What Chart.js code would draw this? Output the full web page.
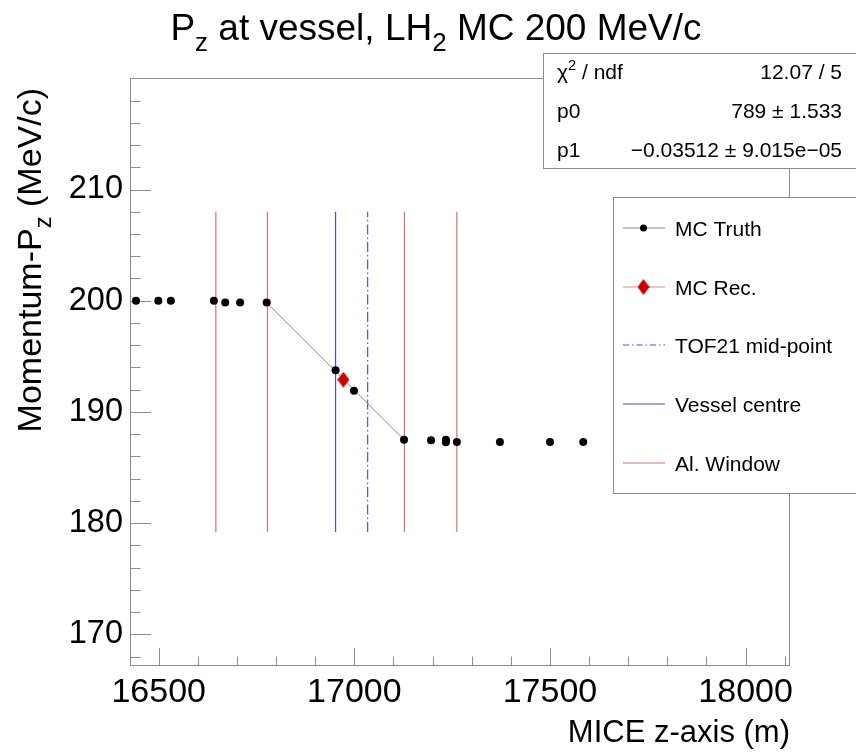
<!DOCTYPE html>
<html>
<head>
<meta charset="utf-8">
<title>Pz at vessel</title>
<script src="https://cdn.jsdelivr.net/npm/chart.js@4.4.1/dist/chart.umd.min.js"></script>
<style>
  html, body { margin: 0; padding: 0; background: #ffffff; }
  #box { width: 856px; height: 756px; }
</style>
</head>
<body>
<div id="box"><canvas id="chart" width="856" height="756"></canvas></div>
<script>
// MC truth momentum sampled along the beamline
const truthZ  = [16442, 16499, 16531, 16641, 16670, 16708, 16776, 16952, 16999, 17127, 17196, 17234, 17234, 17262, 17372, 17500, 17585];
const truthPz = [200.0, 200.0, 200.0, 200.0, 199.85, 199.85, 199.85, 193.75, 191.9, 187.5, 187.45, 187.5, 187.28, 187.3, 187.3, 187.3, 187.3];

// Reconstructed momentum at the vessel
const recZ  = [16972];
const recPz = [192.9];

// Straight-line fit p0 + p1*z across the absorber
const fitP0 = 789;
const fitP1 = -0.03512;
const fitRange = [16776, 17128];

// Reference positions drawn as vertical markers
const windowZ = [16646, 16778, 17128, 17262];
const vesselZ = [16952];
const tofMidZ = [17034];
const markerPz = [179.2, 208.0];

// Axis ranges and labelled ticks
const xRange = [16426.6, 18110.9];
const yRange = [167.24, 220.03];
const xTickValues = [16500, 17000, 17500, 18000];
const yTickValues = [170, 180, 190, 200, 210];

// Fit statistics box
const statsNames  = [[['χ'], ['2', 'sup'], [' / ndf']], [['p0']], [['p1']]];
const statsValues = ['12.07 / 5', '789 ± 1.533', '−0.03512 ± 9.015e−05'];

// Titles
const titleParts  = [['P'], ['z', 'sub'], [' at vessel, LH'], ['2', 'sub'], [' MC 200 MeV/c']];
const xTitleParts = [['MICE z-axis (m)']];
const yTitleParts = [['Momentum-P'], ['z', 'sub'], [' (MeV/c)']];

const FONT = '"Liberation Sans", Arial, Helvetica, sans-serif';
const FRAME_COLOR = '#8c8c8c';

function verticalSegments(zs) {
  const pts = [];
  zs.forEach(z => {
    pts.push({ x: z, y: markerPz[0] }, { x: z, y: markerPz[1] }, { x: z, y: null });
  });
  return pts;
}

function diamondMarker(w, h, color) {
  const c = document.createElement('canvas');
  c.width = w; c.height = h;
  const g = c.getContext('2d');
  g.fillStyle = color;
  g.beginPath();
  g.moveTo(w / 2, 0); g.lineTo(w, h / 2); g.lineTo(w / 2, h); g.lineTo(0, h / 2);
  g.closePath(); g.fill();
  return c;
}

const recMarker = diamondMarker(12, 16, '#cc0000');
const fitLine = fitRange.map(z => ({ x: z, y: fitP0 + fitP1 * z }));

const datasets = [
  {
    label: 'MC Truth', data: truthZ.map((z, i) => ({ x: z, y: truthPz[i] })),
    showLine: false, pointRadius: 4, pointBackgroundColor: '#000', pointBorderWidth: 0,
    borderColor: '#8c8c8c', order: 0
  },
  {
    label: 'MC Rec.', data: recZ.map((z, i) => ({ x: z, y: recPz[i] })),
    showLine: false, pointStyle: recMarker, pointRadius: 7,
    borderColor: '#e88a8a', backgroundColor: '#cc0000', order: 1
  },
  {
    label: 'fit', data: fitLine, showLine: true, pointRadius: 0,
    borderColor: '#8c8c8c', borderWidth: 1, order: 2
  },
  {
    label: 'TOF21 mid-point', data: verticalSegments(tofMidZ), showLine: true, spanGaps: false,
    pointRadius: 0, borderColor: '#5050dc', borderWidth: 1.2, borderDash: [10, 3, 1.5, 3], order: 3
  },
  {
    label: 'Vessel centre', data: verticalSegments(vesselZ), showLine: true, spanGaps: false,
    pointRadius: 0, borderColor: '#4848dc', borderWidth: 1.2, order: 3
  },
  {
    label: 'Al. Window', data: verticalSegments(windowZ), showLine: true, spanGaps: false,
    pointRadius: 0, borderColor: '#d67272', borderWidth: 1.2, order: 4
  }
];

// Legend rows, in display order
const legendNames = ['MC Truth', 'MC Rec.', 'TOF21 mid-point', 'Vessel centre', 'Al. Window'];

function fontFor(part, size) {
  const s = part[1] ? size * 0.7 : size;
  return s.toFixed(2) + 'px ' + FONT;
}

function drawRich(ctx, parts, x, y, size, align) {
  const widths = parts.map(p => { ctx.font = fontFor(p, size); return ctx.measureText(p[0]).width; });
  const total = widths.reduce((a, b) => a + b, 0);
  let cx = align === 'right' ? x - total : align === 'center' ? x - total / 2 : x;
  ctx.textAlign = 'left';
  ctx.textBaseline = 'alphabetic';
  parts.forEach((p, i) => {
    ctx.font = fontFor(p, size);
    const dy = p[1] === 'sub' ? 0.3 * size : p[1] === 'sup' ? -0.42 * size : 0;
    ctx.fillText(p[0], cx, y + dy);
    cx += widths[i];
  });
  return total;
}

// ROOT-style frame with inward ticks
const framePlugin = {
  id: 'frame',
  beforeDatasetsDraw(chart) {
    const { ctx, chartArea: a, scales: { x, y } } = chart;
    ctx.save();
    ctx.strokeStyle = FRAME_COLOR;
    ctx.lineWidth = 1;
    ctx.strokeRect(a.left + 0.5, a.top + 0.5, a.right - a.left, a.bottom - a.top);
    ctx.beginPath();
    for (let v = Math.ceil(x.min / 100) * 100; v <= x.max; v += 100) {
      const px = Math.round(x.getPixelForValue(v)) + 0.5;
      const len = v % 500 === 0 ? 17 : 8.5;
      ctx.moveTo(px, a.bottom); ctx.lineTo(px, a.bottom - len);
    }
    for (let v = Math.ceil(y.min / 2) * 2; v <= y.max; v += 2) {
      const py = Math.round(y.getPixelForValue(v)) + 0.5;
      const len = v % 10 === 0 ? 21 : 10.5;
      ctx.moveTo(a.left, py); ctx.lineTo(a.left + len, py);
    }
    ctx.stroke();
    ctx.restore();
  }
};

// Titles, fit statistics and legend
const annotationPlugin = {
  id: 'annotations',
  afterDraw(chart) {
    const { ctx, chartArea: a } = chart;
    const byLabel = {};
    chart.data.datasets.forEach(d => { byLabel[d.label] = d; });
    ctx.save();
    ctx.fillStyle = '#000';

    drawRich(ctx, titleParts, 436, 40, 37, 'center');
    drawRich(ctx, xTitleParts, a.right + 1, 742, 31, 'right');

    ctx.save();
    ctx.translate(41, 88);
    ctx.rotate(-Math.PI / 2);
    drawRich(ctx, yTitleParts, 0, 0, 34, 'right');
    ctx.restore();

    // statistics box
    ctx.fillStyle = '#fff';
    ctx.fillRect(543.5, 53.5, 320, 115);
    ctx.strokeStyle = FRAME_COLOR;
    ctx.lineWidth = 1;
    ctx.strokeRect(543.5, 53.5, 320, 115);
    ctx.fillStyle = '#000';
    const rowBase = [78.5, 118, 157];
    statsNames.forEach((name, i) => {
      drawRich(ctx, name, 557, rowBase[i], 21, 'left');
      drawRich(ctx, [[statsValues[i]]], 842, rowBase[i], 21, 'right');
    });

    // legend box
    ctx.fillStyle = '#fff';
    ctx.fillRect(613.5, 197.5, 260, 296);
    ctx.strokeStyle = FRAME_COLOR;
    ctx.strokeRect(613.5, 197.5, 260, 296);
    const rowY = [228.3, 286.7, 344.5, 403.5, 463.3];
    legendNames.forEach((name, i) => {
      const d = byLabel[name];
      const cy = Math.round(rowY[i]);
      ctx.save();
      ctx.strokeStyle = d.borderColor;
      ctx.lineWidth = 1.2;
      ctx.setLineDash(d.borderDash ? [6, 3, 1.5, 3] : []);
      ctx.beginPath(); ctx.moveTo(623, cy); ctx.lineTo(665, cy); ctx.stroke();
      ctx.restore();
      if (d.pointStyle && typeof d.pointStyle === 'object') {
        ctx.drawImage(d.pointStyle, 643.5 - d.pointStyle.width / 2, cy - d.pointStyle.height / 2);
      } else if (d.showLine === false) {
        ctx.fillStyle = d.pointBackgroundColor;
        ctx.beginPath(); ctx.arc(643.5, cy, 3.5, 0, Math.PI * 2); ctx.fill();
      }
      ctx.fillStyle = '#000';
      drawRich(ctx, [[name]], 675, cy + 8, 21, 'left');
    });
    ctx.restore();
  }
};

new Chart(document.getElementById('chart'), {
  type: 'scatter',
  data: { datasets },
  options: {
    responsive: false,
    animation: false,
    devicePixelRatio: 1,
    layout: { padding: { top: 78, right: 67, left: 0, bottom: 0 } },
    plugins: { legend: { display: false }, tooltip: { enabled: false }, title: { display: false } },
    scales: {
      x: {
        type: 'linear', min: xRange[0], max: xRange[1],
        grid: { display: false, drawTicks: false }, border: { display: false },
        afterBuildTicks: s => { s.ticks = xTickValues.map(v => ({ value: v })); },
        afterFit: s => { s.height = 91; },
        ticks: {
          font: { family: FONT, size: 34 }, color: '#000', padding: 7,
          maxRotation: 0, autoSkip: false, callback: v => String(v)
        }
      },
      y: {
        type: 'linear', min: yRange[0], max: yRange[1],
        grid: { display: false, drawTicks: false }, border: { display: false },
        afterBuildTicks: s => { s.ticks = yTickValues.map(v => ({ value: v })); },
        afterFit: s => { s.width = 130; },
        ticks: {
          font: { family: FONT, size: 32.5 }, color: '#000', padding: 7,
          autoSkip: false, callback: v => String(v)
        }
      }
    }
  },
  plugins: [framePlugin, annotationPlugin]
});
</script>
</body>
</html>
